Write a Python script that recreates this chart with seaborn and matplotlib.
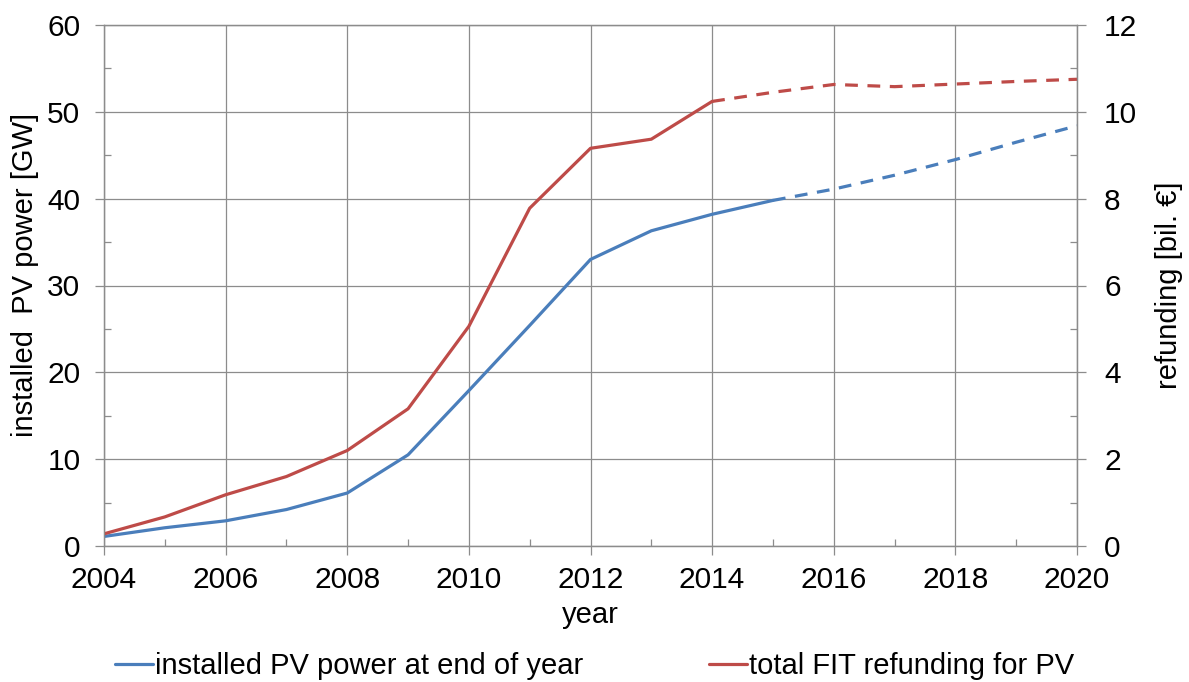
import matplotlib
matplotlib.use("Agg")
import matplotlib.pyplot as plt
import seaborn as sns
import numpy as np
from matplotlib.ticker import MultipleLocator

years = [2004, 2005, 2006, 2007, 2008, 2009, 2010, 2011, 2012, 2013, 2014, 2015, 2016, 2017, 2018, 2019, 2020]
pv_power_gw = [1.1, 2.1, 2.9, 4.2, 6.1, 10.5, 17.9, 25.4, 33.0, 36.3, 38.2, 39.8, 41.1, 42.7, 44.5, 46.5, 48.4]
fit_refund_bn = [0.28, 0.67, 1.18, 1.60, 2.20, 3.16, 5.06, 7.78, 9.16, 9.37, 10.24, 10.45, 10.63, 10.58, 10.64, 10.70, 10.75]
pv_solid_until = 2015
fit_solid_until = 2014

xticks = [2004, 2006, 2008, 2010, 2012, 2014, 2016, 2018, 2020]
label_pv = "installed PV power at end of year"
label_fit = "total FIT refunding for PV"

sns.set_theme(style="white")
plt.rcParams['font.family'] = ['Liberation Sans', 'DejaVu Sans']
plt.rcParams['text.color'] = 'black'
plt.rcParams['axes.labelcolor'] = 'black'
plt.rcParams['xtick.color'] = 'black'
plt.rcParams['ytick.color'] = 'black'

BLUE = "#4a7ebb"
RED = "#be4b48"
GRID = "#8c8c8c"
FS = 21.5
LFS = 21

fig = plt.figure(figsize=(11.89, 6.82), dpi=100)
ax = fig.add_axes([104/1189, 1-546/682, (1077-104)/1189, (546-25)/682])
ax2 = ax.twinx()

yr = np.array(years)
pv = np.array(pv_power_gw)
fit = np.array(fit_refund_bn)
dash = (0, (4, 3))
m1 = yr <= pv_solid_until
m2 = yr >= pv_solid_until
sns.lineplot(x=yr[m1], y=pv[m1], ax=ax, color=BLUE, lw=2.3, label=label_pv, legend=False)
sns.lineplot(x=yr[m2], y=pv[m2], ax=ax, color=BLUE, lw=2.3, linestyle=dash, legend=False)
f1 = yr <= fit_solid_until
f2 = yr >= fit_solid_until
sns.lineplot(x=yr[f1], y=fit[f1], ax=ax2, color=RED, lw=2.3, label=label_fit, legend=False)
sns.lineplot(x=yr[f2], y=fit[f2], ax=ax2, color=RED, lw=2.3, linestyle=dash, legend=False)

ax.set_xlim(2004, 2020)
ax.set_ylim(0, 60)
ax2.set_ylim(0, 12)
ax.set_xticks(xticks)
ax.xaxis.set_minor_locator(MultipleLocator(1))
ax.yaxis.set_major_locator(MultipleLocator(10))
ax.yaxis.set_minor_locator(MultipleLocator(5))
ax2.yaxis.set_major_locator(MultipleLocator(2))
ax2.yaxis.set_minor_locator(MultipleLocator(1))

ax.grid(True, which='major', color=GRID, lw=0.9)
ax2.grid(False)
for a in (ax, ax2):
    for s in a.spines.values():
        s.set_color(GRID)
        s.set_linewidth(0.9)
    a.set_facecolor('none')

ax.tick_params(axis='x', which='major', direction='out', length=6.5, width=0.9, color=GRID,
               labelsize=FS, pad=8, bottom=True, labelcolor='black')
ax.tick_params(axis='x', which='minor', direction='in', length=5, width=0.9, color=GRID, bottom=True)
ax.tick_params(axis='y', which='major', direction='out', length=6.5, width=0.9, color=GRID,
               labelsize=FS, pad=10.5, left=True, labelcolor='black')
ax.tick_params(axis='y', which='minor', direction='in', length=5, width=0.9, color=GRID, left=True)
ax2.tick_params(axis='y', which='major', direction='out', length=6.5, width=0.9, color=GRID,
                labelsize=FS, pad=13, right=True, labelcolor='black')
ax2.tick_params(axis='y', which='minor', direction='in', length=5, width=0.9, color=GRID, right=True)

ax.set_xlabel("year", fontsize=LFS, labelpad=5)
ax.set_ylabel("installed  PV power [GW]", fontsize=LFS)
ax.yaxis.set_label_coords((39-104)/973, (546-275)/521)
ax2.set_ylabel("refunding [bil. €]", fontsize=LFS, labelpad=13)

h1, l1 = ax.get_legend_handles_labels()
h2, l2 = ax2.get_legend_handles_labels()
fig.legend(h1 + h2, l1 + l2, loc='center', bbox_to_anchor=(0.5, 1-666/682), ncol=2,
           frameon=False, fontsize=LFS, handlelength=1.3, handletextpad=0.08, columnspacing=4.3,
           borderpad=0, borderaxespad=0)

fig.savefig("out.png", dpi=100)
